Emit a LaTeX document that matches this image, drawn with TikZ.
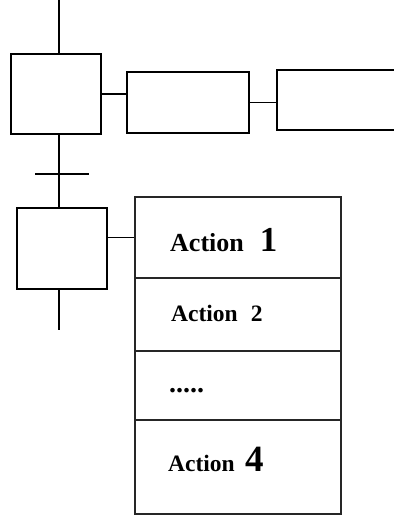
\documentclass[tikz,border=0pt]{standalone}
\usepackage{fontspec}
\setmainfont{Liberation Serif}
\begin{document}
\begin{tikzpicture}[x=1pt,y=-1pt,
  stepbox/.style={draw, line width=2.2pt, inner sep=0pt},
  actbox/.style={draw, line width=1.1pt, inner sep=0pt},
  rowbox/.style={draw=black!85, line width=1.2pt, inner sep=0pt, minimum width=206pt},
  link/.style={line width=1.1pt},
  lbl/.style={anchor=base west, inner sep=0pt, font=\bfseries}]
\useasboundingbox (0,0) rectangle (393,518);
% steps
\node[stepbox, minimum width=90pt, minimum height=80pt] (step1) at (56,94) {};
\node[stepbox, line width=2pt, minimum width=90pt, minimum height=81pt] (step2) at (62,248.5) {};
% action boxes of step 1
\node[actbox, minimum width=122pt, minimum height=61pt] (box2) at (188,102.5) {};
\node[actbox, minimum width=122pt, minimum height=60pt] (box3) at (338,100) {};
% action table of step 2
\node[rowbox, minimum height=81pt] (row1) at (238,237.5) {};
\node[rowbox, minimum height=73pt] (row2) at (238,314.5) {};
\node[rowbox, minimum height=69pt] (row3) at (238,385.5) {};
\node[rowbox, minimum height=94pt] (row4) at (238,467) {};
% texts
\node[lbl] (t1) at (170,251) {\fontsize{26}{26}\selectfont Action\hspace{16pt}\fontsize{35}{35}\selectfont 1};
\node[lbl] (t2) at (171,321.5) {\fontsize{23.5}{24}\selectfont Action\hspace{13pt}2};
\node[lbl] (t3) at (169,392.5) {\fontsize{28}{28}\selectfont .....};
\node[lbl] (t4) at (168,471.5) {\fontsize{23.5}{24}\selectfont Action\hspace{11pt}\fontsize{37}{37}\selectfont 4};
% links
\coordinate (top) at (59,0);
\coordinate (bot) at (59,330);
\coordinate (tr) at (62,174);
\draw[link] (top) -- (top |- step1.north);
\draw[link] (step1.south -| top) -- (step2.north -| top);
\draw[link] (step2.south -| bot) -- (bot);
\draw[link] ([xshift=-27pt]tr) -- ([xshift=27pt]tr);
\draw[link] (step1.east) -- (step1.east -| box2.west);
\draw[link] (box2.east) -- (box2.east -| box3.west);
\draw[link] (row1.west -| step2.east) -- (row1.west);
\end{tikzpicture}
\end{document}
